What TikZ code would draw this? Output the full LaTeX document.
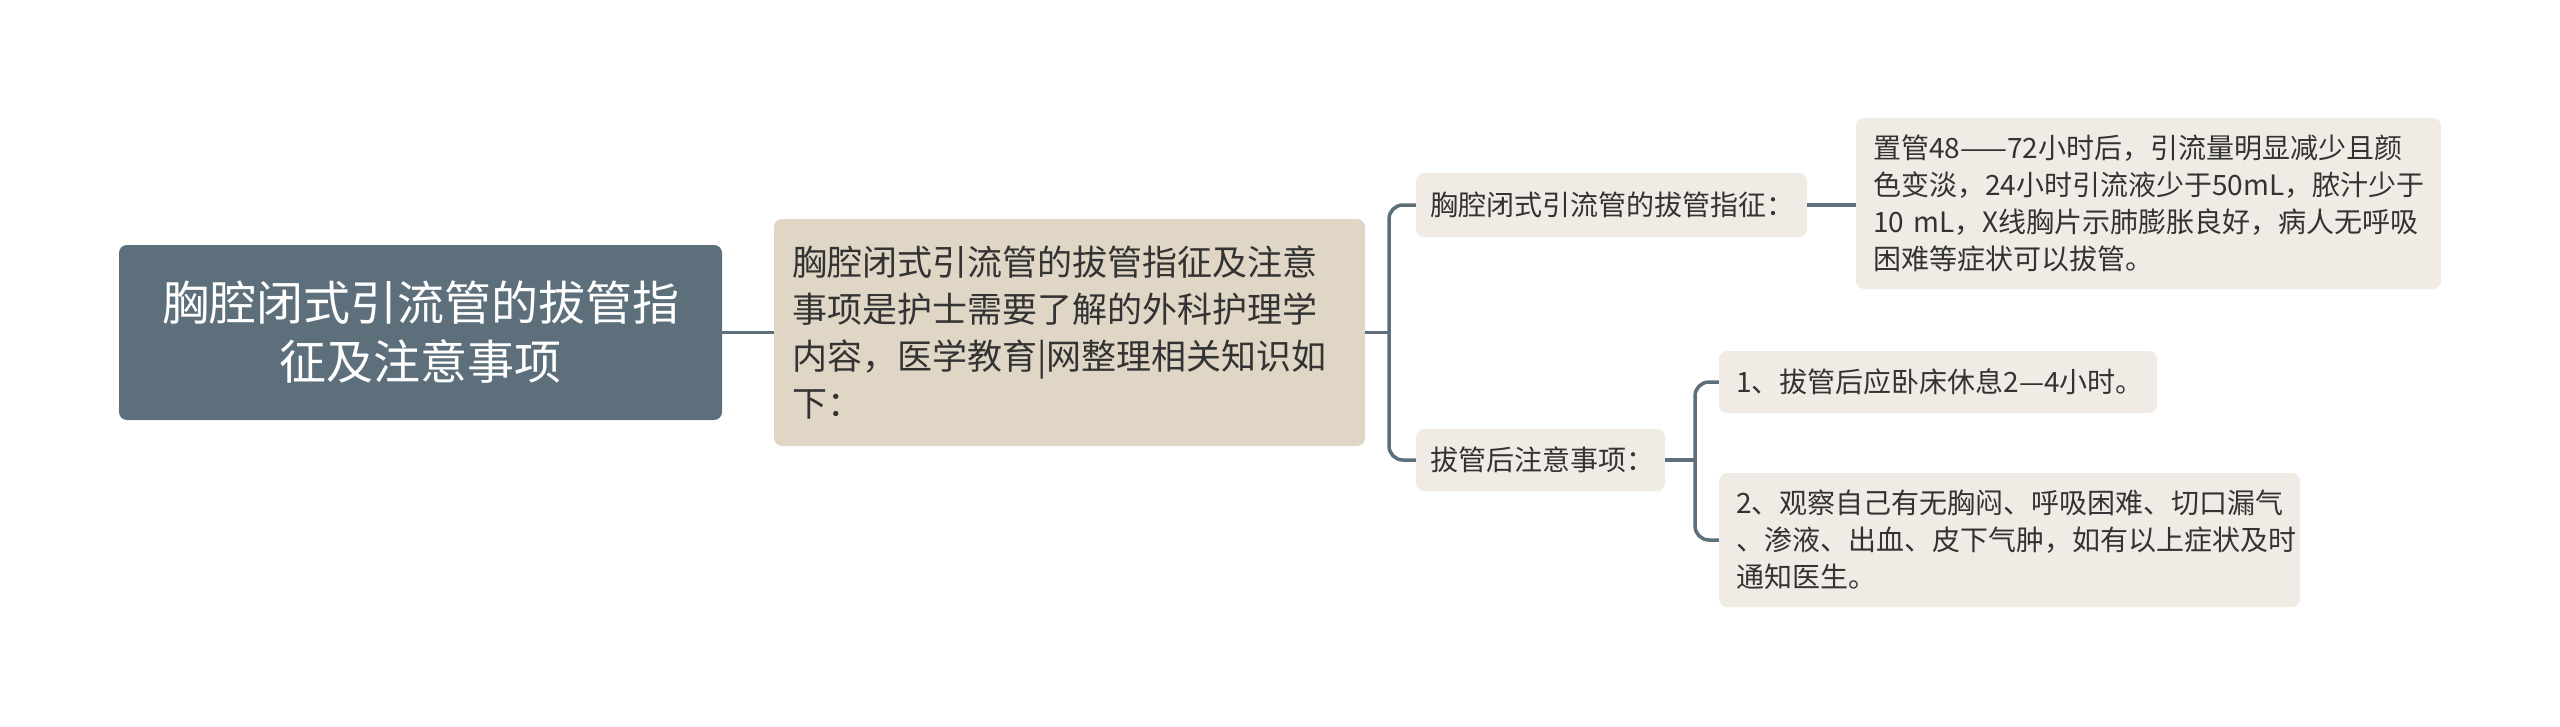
\documentclass[tikz,border=0pt]{standalone}
\usepackage{fontspec}
\newfontfamily\cjk{Noto Sans CJK SC}
\usepackage{tikz}
\usetikzlibrary{positioning}
\usepackage{xcolor}
\definecolor{mmslate}{RGB}{92,111,122}
\definecolor{mmbeige}{RGB}{224,214,198}
\definecolor{mmlight}{RGB}{240,236,229}
\definecolor{mmtext}{RGB}{51,51,51}
\tikzstyle{rootbox} = [rectangle, rounded corners=8pt, fill=mmslate, text=white, align=center, inner sep=0pt, font=\cjk\fontsize{47}{59}\selectfont]
\tikzstyle{mainbox} = [rectangle, rounded corners=8pt, fill=mmbeige, text=mmtext, align=left, inner ysep=0pt, inner xsep=18pt, font=\cjk\fontsize{35}{47}\selectfont]
\tikzstyle{subbox} = [rectangle, rounded corners=8pt, fill=mmlight, text=mmtext, align=left, inner ysep=0pt, inner xsep=14pt, font=\cjk\fontsize{28}{37}\selectfont]
\tikzstyle{leafbox} = [rectangle, rounded corners=8pt, fill=mmlight, text=mmtext, align=left, inner ysep=0pt, inner xsep=17pt, font=\cjk\fontsize{28}{37}\selectfont]
\tikzstyle{link} = [draw=mmslate, line width=3.5pt, rounded corners=14pt]

\begin{document}
\begin{tikzpicture}[x=1pt,y=-1pt]
\useasboundingbox (0,0) rectangle (2560,726);

% Root
\node[rootbox, minimum width=603pt, minimum height=175pt] (root) at (420.5,332.5) {
胸腔闭式引流管的拔管指\\
征及注意事项
};

% Main topic
\node[mainbox, text width=555pt, minimum height=227pt] (main) at (1069.5,332.5) {
胸腔闭式引流管的拔管指征及注意\\
事项是护士需要了解的外科护理学\\
内容，医学教育|网整理相关知识如\\
下：
};

% Indications
\node[subbox, text width=363pt, minimum height=64pt] (indic) at (1611.5,205) {胸腔闭式引流管的拔管指征：};
\node[leafbox, text width=551pt, minimum height=171pt] (indicleaf) at (2148.5,203.5) {
置管48——72小时后，引流量明显减少且颜\\
色变淡，24小时引流液少于50mL，脓汁少于\\
10 mL，X线胸片示肺膨胀良好，病人无呼吸\\
困难等症状可以拔管。
};

% Care after removal
\node[subbox, text width=221pt, minimum height=62pt] (care) at (1540.5,460) {拔管后注意事项：};
\node[leafbox, text width=404pt, minimum height=62pt] (careone) at (1938,382) {\mbox{1、拔管后应卧床休息2—4小时。}};
\node[leafbox, text width=547pt, minimum height=134pt] (caretwo) at (2009.5,540) {
2、观察自己有无胸闷、呼吸困难、切口漏气\\
、渗液、出血、皮下气肿，如有以上症状及时\\
通知医生。
};

% Connectors
\coordinate (forkmain) at (1389,332.5);
\coordinate (forkcare) at (1695,460);
\draw[link] (root.east) -- (main.west);
\draw[link] (main.east) -- (forkmain);
\draw[link] (indic.west) -| (forkmain) |- (care.west);
\draw[link] (indic.east) -- (indic.east -| indicleaf.west);
\draw[link] (care.east) -- (forkcare);
\draw[link] (careone.west) -| (forkcare) |- (caretwo.west);
\end{tikzpicture}
\end{document}
